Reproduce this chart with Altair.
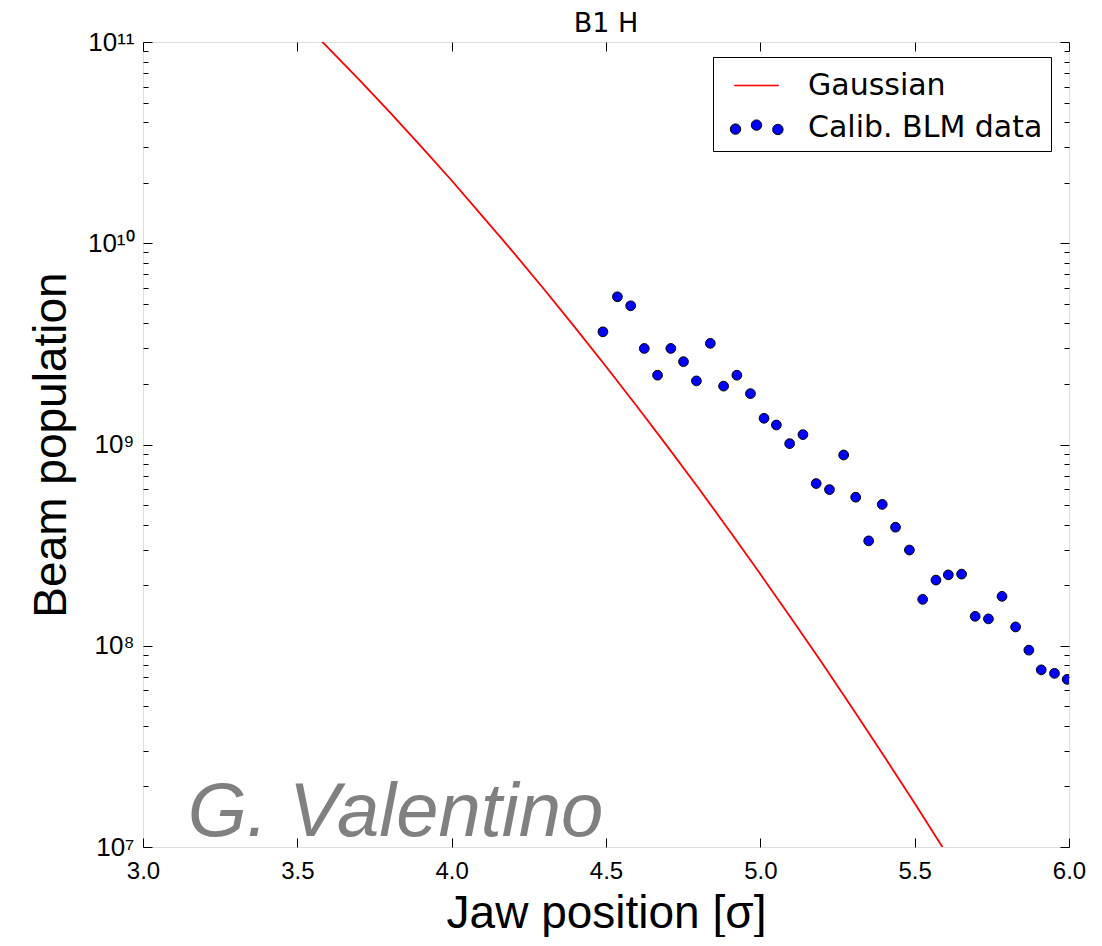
import altair as alt
import pandas as pd

# Gaussian curve
gauss_x = [3.5, 3.6, 3.7, 3.8, 3.9, 4.0, 4.1, 4.2, 4.3, 4.4, 4.5, 4.6,
           4.7, 4.8, 4.9, 5.0, 5.1, 5.2, 5.3, 5.4, 5.5, 5.6, 5.7]
gauss_y = [1.336e11, 9.36e10, 6.50e10, 4.47e10, 3.04e10, 2.05e10, 1.36e10,
           9.0e9, 5.89e9, 3.81e9, 2.44e9, 1.55e9, 9.73e8, 6.06e8, 3.73e8,
           2.27e8, 1.37e8, 8.2e7, 4.85e7, 2.84e7, 1.65e7, 9.45e6, 5.37e6]

# Calibrated BLM data points
blm_x = [4.49, 4.537, 4.58, 4.624, 4.667, 4.71, 4.751, 4.793, 4.838, 4.881,
         4.924, 4.968, 5.012, 5.052, 5.095, 5.138, 5.181, 5.224, 5.27, 5.309,
         5.351, 5.395, 5.438, 5.483, 5.526, 5.569, 5.609, 5.652, 5.696, 5.739,
         5.783, 5.827, 5.87, 5.91, 5.953, 5.994]
blm_y = [3.63e9, 5.42e9, 4.89e9, 3.0e9, 2.21e9, 3.0e9, 2.58e9, 2.07e9, 3.18e9,
         1.95e9, 2.21e9, 1.79e9, 1.35e9, 1.25e9, 1.01e9, 1.12e9, 6.4e8, 5.97e8,
         8.87e8, 5.47e8, 3.32e8, 5.04e8, 3.88e8, 2.99e8, 1.70e8, 2.12e8, 2.25e8,
         2.27e8, 1.40e8, 1.36e8, 1.76e8, 1.24e8, 9.51e7, 7.59e7, 7.29e7, 6.81e7]

x_ticks = [3.0, 3.5, 4.0, 4.5, 5.0, 5.5, 6.0]
y_major = [1e7, 1e8, 1e9, 1e10, 1e11]
y_minor = [m * 10 ** k for k in range(7, 11) for m in range(2, 10)]
y_tick_labels = ["10⁷", "10⁸", "10⁹", "10¹⁰", "10¹¹"]
legend_labels = ["Gaussian", "Calib. BLM data"]
chart_title = ["B1 H"]
watermark_text = ["G. Valentino"]
watermark_x = [3.145]
watermark_y = [1.14e7]

W, H = 926, 805
FONT = "DejaVu Sans"

gdf = pd.DataFrame({"x": gauss_x, "y": gauss_y})
bdf = pd.DataFrame({"x": blm_x, "y": blm_y})
ldf = pd.DataFrame({"x": blm_x, "y": blm_y, "series": "Calib. BLM data"})
wdf = pd.DataFrame({"x": watermark_x, "y": watermark_y, "t": watermark_text})
tdf = pd.DataFrame({"t": chart_title})

xs = alt.Scale(domain=[3, 6], nice=False, zero=False)
ys = alt.Scale(type="log", domain=[1e7, 1e11], nice=False)

label_expr = "[" + ",".join("'%s'" % s for s in y_tick_labels) + "][round(log(datum.value)/LN10)-7]"

ax_x_main = alt.Axis(orient="bottom", values=x_ticks, format=".1f", ticks=False, domain=False,
                     grid=False, labelFontSize=24, labelPadding=12, labelFlush=False,
                     labelOverlap=False, title="Jaw position [σ]", titleFontSize=46,
                     titleFontWeight="normal", titlePadding=8)
ax_y_main = alt.Axis(orient="left", values=y_major, labelExpr=label_expr, ticks=False, domain=False,
                     grid=False, labelFontSize=26, labelPadding=9, labelFlush=False,
                     labelOverlap=False, title="Beam population", titleFontSize=46,
                     titleFontWeight="normal", titlePadding=12)


def inward(orient, offset, values, size):
    return alt.Axis(orient=orient, offset=offset, values=values, labels=False, domain=False,
                    grid=False, ticks=True, tickSize=size, tickWidth=1, tickColor="black", title="")


ax_x_in_bottom = inward("top", -H, x_ticks, 9)
ax_x_in_top = inward("bottom", -H, x_ticks, 9)
ax_y_in_left_major = inward("right", -W, y_major, 9)
ax_y_in_right_major = inward("left", -W, y_major, 9)
ax_y_in_left_minor = inward("right", -W, y_minor, 5)
ax_y_in_right_minor = inward("left", -W, y_minor, 5)

line = alt.Chart(gdf).mark_line(color="#ff0000", strokeWidth=1.8, clip=True).encode(
    x=alt.X("x:Q", scale=xs, axis=ax_x_main),
    y=alt.Y("y:Q", scale=ys, axis=ax_y_main),
)

points = alt.Chart(bdf).mark_circle(color="#0000ff", stroke="black", strokeWidth=1,
                                    size=95, opacity=1, clip=True).encode(
    x=alt.X("x:Q", scale=xs, axis=ax_x_in_bottom),
    y=alt.Y("y:Q", scale=ys, axis=ax_y_in_left_major),
)


def circ(cx, cy, r):
    return "M%g,%gA%g,%g 0 1,0 %g,%gA%g,%g 0 1,0 %g,%gZ" % (
        cx - r, cy, r, r, cx + r, cy, r, r, cx - r, cy)


dots_path = circ(-1.05, 0.08, 0.26) + circ(0.0, -0.12, 0.26) + circ(1.07, 0.1, 0.26)
line_path = "M-1.1,-0.015L1.1,-0.015L1.1,0.015L-1.1,0.015Z"

leg = alt.Legend(title=None, orient="none", legendX=570, legendY=15,
                 symbolSize=1600, symbolStrokeWidth=1, symbolOpacity=1,
                 symbolOffset=15, labelOffset=31, padding=8, rowPadding=6,
                 labelFont=FONT, labelFontSize=30, labelColor="black", labelLimit=500,
                 strokeColor="black", fillColor="white", cornerRadius=0)

legend_layer = alt.Chart(ldf).mark_point(filled=True, opacity=0).encode(
    x=alt.X("x:Q", scale=xs, axis=ax_x_in_top),
    y=alt.Y("y:Q", scale=ys, axis=ax_y_in_right_major),
    fill=alt.Fill("series:N", scale=alt.Scale(domain=legend_labels, range=["#ff0000", "#0000ff"]), legend=leg),
    stroke=alt.Stroke("series:N", scale=alt.Scale(domain=legend_labels, range=["#ff0000", "black"]), legend=leg),
    shape=alt.Shape("series:N", scale=alt.Scale(domain=legend_labels, range=[line_path, dots_path]), legend=leg),
)

minor_left = alt.Chart(bdf).mark_point(opacity=0).encode(
    x=alt.X("x:Q", scale=xs, axis=None),
    y=alt.Y("y:Q", scale=ys, axis=ax_y_in_left_minor),
)
minor_right = alt.Chart(bdf).mark_point(opacity=0).encode(
    x=alt.X("x:Q", scale=xs, axis=None),
    y=alt.Y("y:Q", scale=ys, axis=ax_y_in_right_minor),
)

wm = alt.Chart(wdf).mark_text(font="Liberation Sans", fontStyle="italic", fontSize=76,
                              color="#808080", align="left", baseline="alphabetic").encode(
    x=alt.X("x:Q", scale=xs, axis=None),
    y=alt.Y("y:Q", scale=ys, axis=None),
    text="t:N",
)

title_mark = alt.Chart(tdf).mark_text(font=FONT, fontSize=27, color="black", align="center",
                                      baseline="alphabetic").encode(
    x=alt.value(W / 2),
    y=alt.value(-10),
    text="t:N",
)

chart = alt.layer(line, points, legend_layer, minor_left, minor_right, wm, title_mark).resolve_axis(
    x="independent", y="independent"
).properties(
    width=W, height=H,
    autosize=alt.AutoSizeParams(type="none"),
    padding={"left": 135, "top": 34, "right": 25, "bottom": 90},
).configure_view(
    stroke="black", strokeWidth=1.5
).configure_axis(
    grid=False, labelFont=FONT, titleFont=FONT, labelColor="black", titleColor="black"
).configure(background="white")

chart.save("out.html", embed_options={"renderer": "svg", "actions": False})
